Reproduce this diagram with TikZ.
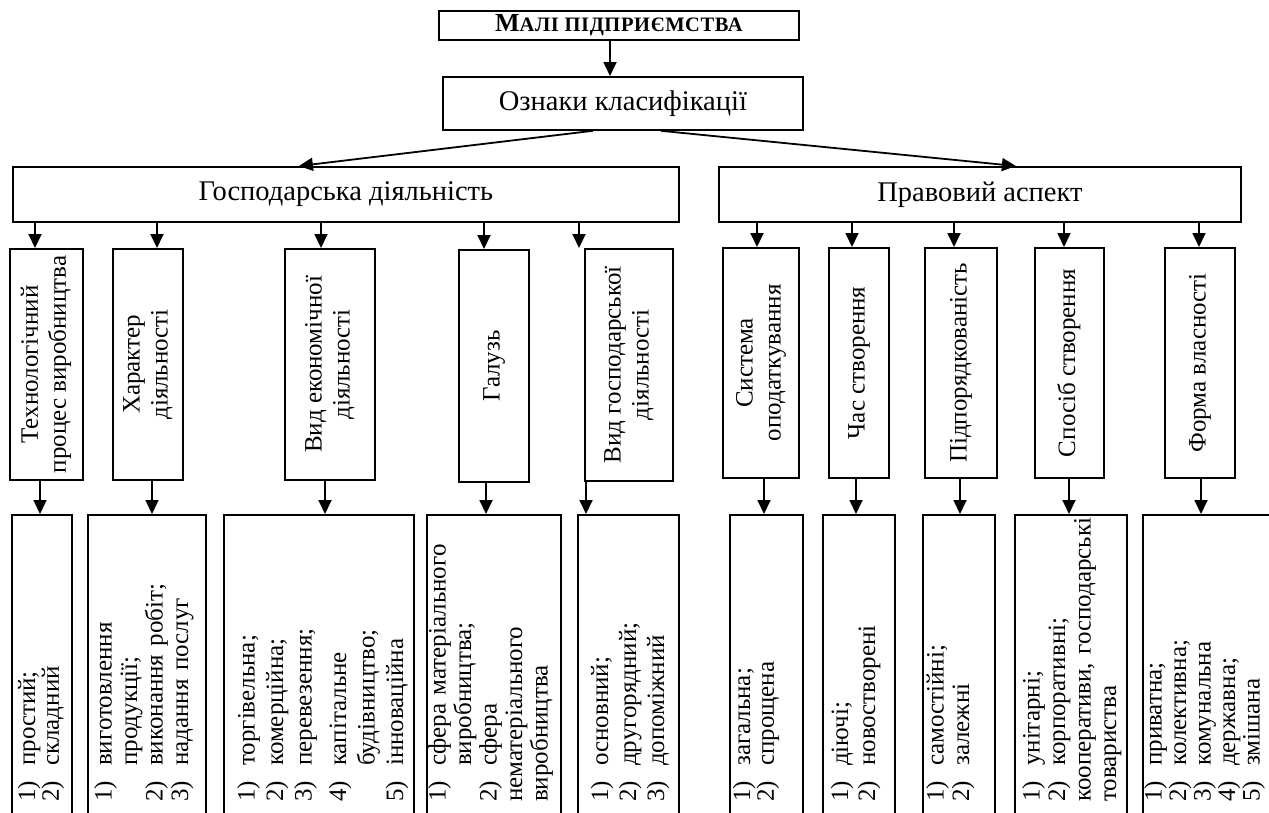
\documentclass[tikz,border=0pt]{standalone}
\usepackage{fontspec}
\setmainfont{Liberation Serif}
\usepackage{graphicx}
\usetikzlibrary{arrows.meta, calc}

\newlength{\numw}
\setlength{\numw}{36pt}
% one numbered item with hanging indent
\newcommand{\li}[2]{\par\noindent\hangindent=\numw\hangafter=1\makebox[\numw][l]{#1)}#2}
% rotated text for the vertical boxes
\newcommand{\vtext}[1]{\rotatebox{90}{\begin{tabular}{@{}c@{}}#1\end{tabular}}}

\begin{document}
\begin{tikzpicture}[x=1pt,y=-1pt]
\tikzset{
    node style box/.style={draw, rectangle, line width=1.8pt, inner sep=0pt, anchor=north west,
        font=\fontsize{25}{28}\selectfont},
    node style head/.style={node style box, font=\fontsize{28.5}{32}\selectfont},
    node style list/.style={rotate=90, anchor=north west, inner sep=0pt, align=left,
        font=\fontsize{25}{25.5}\selectfont},
    arrow style/.style={-{Triangle[width=13pt,length=14pt]}, line width=1.8pt}
}
\useasboundingbox (0,0) rectangle (1269,812);
\clip (0,0) rectangle (1269,812);

% top
\node[node style box, minimum width=360, minimum height=29] (small) at (438,10)
    {\bfseries\fontsize{26}{28}\selectfont М\fontsize{20.5}{22}\selectfont\addfontfeature{LetterSpace=3}АЛІ ПІДПРИЄМСТВА};
\node[node style head, minimum width=360, minimum height=53] (signs) at (442,76) {Ознаки класифікації};
\node[node style head, minimum width=666, minimum height=55] (econ) at (12,166) {Господарська діяльність};
\node[node style head, minimum width=522, minimum height=55] (legal) at (718,166) {Правовий аспект};

\coordinate (c) at (610,0);
\draw[arrow style] (small.south -| c) -- (signs.north -| c);
\draw[arrow style] ([xshift=-30pt]signs.south) -- ([xshift=-47pt]econ.north);
\draw[arrow style] ([xshift=38pt]signs.south) -- ([xshift=36pt]legal.north);

% middle row
\node[node style box, minimum width=73, minimum height=231] (m1) at (9,248) {\vtext{Технологічний\\процес виробництва}};
\node[node style box, minimum width=70, minimum height=231] (m2) at (112,248) {\vtext{Характер\\діяльності}};
\node[node style box, minimum width=90, minimum height=231] (m3) at (284,248) {\vtext{Вид економічної\\діяльності}};
\node[node style box, minimum width=70, minimum height=232] (m4) at (458,249) {\vtext{Галузь}};
\node[node style box, minimum width=88, minimum height=232] (m5) at (584,248) {\vtext{Вид господарської\\діяльності}};
\node[node style box, minimum width=76, minimum height=230] (m6) at (722,247) {\vtext{Система\\оподаткування}};
\node[node style box, minimum width=60, minimum height=230] (m7) at (828,247) {\vtext{Час створення}};
\node[node style box, minimum width=72, minimum height=230] (m8) at (924,247) {\vtext{Підпорядкованість}};
\node[node style box, minimum width=69, minimum height=230] (m9) at (1034,247) {\vtext{Спосіб створення}};
\node[node style box, minimum width=70, minimum height=230] (m10) at (1164,247) {\vtext{Форма власності}};

% bottom row
\node[node style box, minimum width=60, minimum height=320] (b1) at (11,514) {};
\node[node style box, minimum width=118, minimum height=320] (b2) at (87,514) {};
\node[node style box, minimum width=190, minimum height=320] (b3) at (223,514) {};
\node[node style box, minimum width=134, minimum height=320] (b4) at (426,514) {};
\node[node style box, minimum width=101, minimum height=320] (b5) at (577,514) {};
\node[node style box, minimum width=73, minimum height=320] (b6) at (729,514) {};
\node[node style box, minimum width=72, minimum height=320] (b7) at (822,514) {};
\node[node style box, minimum width=72, minimum height=320] (b8) at (922,514) {};
\node[node style box, minimum width=112, minimum height=320] (b9) at (1014,514) {};
\node[node style box, minimum width=140, minimum height=320] (b10) at (1142,514) {};

\node[node style list, text width=280, font=\fontsize{25}{21}\selectfont] (t1) at (14,802) {\li{1}{простий;}\li{2}{складний}};
\node[node style list, text width=280] (t2) at (86,802) {\li{1}{виготовлення продукції;}\li{2}{виконання робіт;}\li{3}{надання послуг}};
\node[node style list, text width=280, font=\fontsize{25}{28.5}\selectfont] (t3) at (226,802) {\li{1}{торгівельна;}\li{2}{комерційна;}\li{3}{перевезення;}\vspace{6pt}\li{4}{капітальне будівництво;}\li{5}{інноваційна}};
\node[node style list, text width=265] (t4) at (420,802) {\li{1}{сфера матеріального виробництва;}\li{2}{сфера нематеріального виробництва}};
\node[node style list, text width=280, font=\fontsize{25}{28}\selectfont] (t5) at (580,802) {\li{1}{основний;}\li{2}{другорядний;}\li{3}{допоміжний}};
\node[node style list, text width=280, font=\fontsize{25}{22}\selectfont] (t6) at (728,802) {\li{1}{загальна;}\li{2}{спрощена}};
\node[node style list, text width=280, font=\fontsize{25}{27}\selectfont] (t7) at (821,802) {\li{1}{діючі;}\li{2}{новостворені}};
\node[node style list, text width=280] (t8) at (918,802) {\li{1}{самостійні;}\li{2}{залежні}};
\node[node style list, text width=295] (t9) at (1014,802) {\li{1}{унітарні;}\li{2}{корпоративні;}\par\noindent кооперативи, господарські товариства};
\node[node style list, text width=280, font=\fontsize{25}{24.5}\selectfont] (t10) at (1137,802) {\li{1}{приватна;}\li{2}{колективна;}\li{3}{комунальна}\li{4}{державна;}\li{5}{змішана}};

% arrows down
\foreach \n/\x in {m1/35,m2/157,m3/321,m4/484,m5/579}{
  \coordinate (c) at (\x,0);
  \draw[arrow style] (econ.south -| c) -- (\n.north -| c);
}
\foreach \n/\x in {m6/757,m7/852,m8/954,m9/1064,m10/1199}{
  \coordinate (c) at (\x,0);
  \draw[arrow style] (legal.south -| c) -- (\n.north -| c);
}
\foreach \m/\b/\x in {m1/b1/40,m2/b2/152,m3/b3/325,m4/b4/486,m5/b5/586,
                      m6/b6/764,m7/b7/856,m8/b8/960,m9/b9/1069,m10/b10/1201}{
  \coordinate (c) at (\x,0);
  \draw[arrow style] (\m.south -| c) -- (\b.north -| c);
}
\end{tikzpicture}
\end{document}
